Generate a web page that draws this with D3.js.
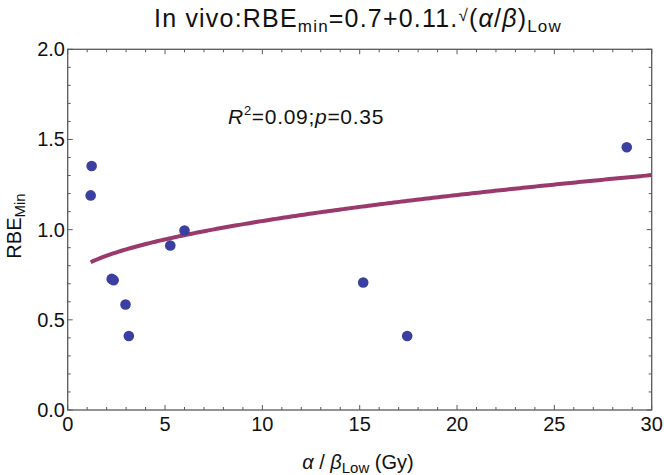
<!DOCTYPE html>
<html><head><meta charset="utf-8">
<script src="https://cdn.jsdelivr.net/npm/d3@7"></script>
<style>body{margin:0;background:#fff}svg{display:block;font-family:"Liberation Sans",Arial,sans-serif}</style>
</head><body><svg id="c" width="664" height="475"></svg>
<script>
const alphaBeta = [1.23, 1.18, 2.26, 2.36, 2.97, 3.14, 5.27, 6.0, 15.18, 17.44, 28.72];
const rbeMin    = [1.353, 1.19, 0.727, 0.72, 0.585, 0.41, 0.912, 0.995, 0.707, 0.41, 1.457];
const fitIntercept = 0.7, fitSlope = 0.11;
const fitRange = [1.18, 30];
const xTicks = [0, 5, 10, 15, 20, 25, 30];
const yTicks = [0.0, 0.5, 1.0, 1.5, 2.0];

const svg = d3.select("#c");
const L = 67.7, R = 651.7, T = 49.3, B = 410;
const x = d3.scaleLinear().domain([0, 30]).range([L, R]);
const y = d3.scaleLinear().domain([0, 2]).range([B, T]);
const frameColor = "#5a5a5a";

svg.append("rect").attr("x", L).attr("y", T).attr("width", R - L).attr("height", B - T)
  .attr("fill", "none").attr("stroke", frameColor).attr("stroke-width", 1.3);

const xMinor = d3.range(0, 31, 1), yMinor = d3.range(0, 2.001, 0.1);
const g = svg.append("g").attr("stroke", frameColor).attr("stroke-width", 1);
xMinor.forEach(v => {
  const len = v % 5 === 0 ? 5 : 3;
  g.append("line").attr("x1", x(v)).attr("x2", x(v)).attr("y1", B).attr("y2", B - len);
  g.append("line").attr("x1", x(v)).attr("x2", x(v)).attr("y1", T).attr("y2", T + len);
});
yMinor.forEach(v => {
  const major = Math.abs(v * 2 - Math.round(v * 2)) < 1e-6;
  const len = major ? 5 : 3;
  g.append("line").attr("x1", L).attr("x2", L + len).attr("y1", y(v)).attr("y2", y(v));
  g.append("line").attr("x1", R).attr("x2", R - len).attr("y1", y(v)).attr("y2", y(v));
});

svg.append("g").selectAll("text").data(xTicks).join("text")
  .attr("x", d => x(d)).attr("y", 431).attr("text-anchor", "middle")
  .attr("font-size", 20).attr("fill", "#111").text(d => d);
svg.append("g").selectAll("text").data(yTicks).join("text")
  .attr("x", 65).attr("y", d => y(d) + 7).attr("text-anchor", "end")
  .attr("font-size", 20).attr("fill", "#111").text(d => d.toFixed(1));

const curvePts = d3.range(0, 201).map(i => {
  const xv = fitRange[0] + (fitRange[1] - fitRange[0]) * i / 200;
  return [xv, fitIntercept + fitSlope * Math.sqrt(xv)];
});
svg.append("path").datum(curvePts)
  .attr("d", d3.line().x(d => x(d[0])).y(d => y(d[1])))
  .attr("fill", "none").attr("stroke", "#9a3a6c").attr("stroke-width", 4);

svg.append("g").selectAll("circle").data(alphaBeta.map((v, i) => [v, rbeMin[i]])).join("circle")
  .attr("cx", d => x(d[0])).attr("cy", d => y(d[1])).attr("r", 5.3)
  .attr("fill", "#3b3f9f");

const title = svg.append("text").attr("x", 358).attr("y", 27).attr("text-anchor", "middle")
  .attr("font-size", 25).attr("letter-spacing", 1.2).attr("fill", "#111");
title.append("tspan").text("In vivo:RBE");
title.append("tspan").attr("font-size", 17).attr("dy", 5).text("min");
title.append("tspan").attr("dy", -5).text("=0.7+0.11.");
title.append("tspan").attr("font-size", 17).attr("dy", -6).text("√");
title.append("tspan").attr("dy", 6).text("(");
title.append("tspan").attr("font-style", "italic").text("α");
title.append("tspan").text("/");
title.append("tspan").attr("font-style", "italic").text("β");
title.append("tspan").text(")");
title.append("tspan").attr("font-size", 17).attr("dy", 5).text("Low");

const ann = svg.append("text").attr("x", 228).attr("y", 124).attr("font-size", 21)
  .attr("letter-spacing", 0.7).attr("fill", "#111");
ann.append("tspan").attr("font-style", "italic").text("R");
ann.append("tspan").attr("font-size", 13).attr("dy", -9).text("2");
ann.append("tspan").attr("dy", 9).text("=0.09;");
ann.append("tspan").attr("font-style", "italic").text("p");
ann.append("tspan").text("=0.35");

const xl = svg.append("text").attr("x", 358).attr("y", 469).attr("text-anchor", "middle")
  .attr("font-size", 20).attr("fill", "#111");
xl.append("tspan").attr("font-style", "italic").text("α");
xl.append("tspan").text(" / ");
xl.append("tspan").attr("font-style", "italic").text("β");
xl.append("tspan").attr("font-size", 15).attr("dy", 4).text("Low");
xl.append("tspan").attr("dy", -4).text(" (Gy)");

const yl = svg.append("text").attr("transform", "translate(21,226) rotate(-90)")
  .attr("text-anchor", "middle").attr("font-size", 20).attr("fill", "#111");
yl.append("tspan").text("RBE");
yl.append("tspan").attr("font-size", 15).attr("dy", 4).text("Min");
</script></body></html>
